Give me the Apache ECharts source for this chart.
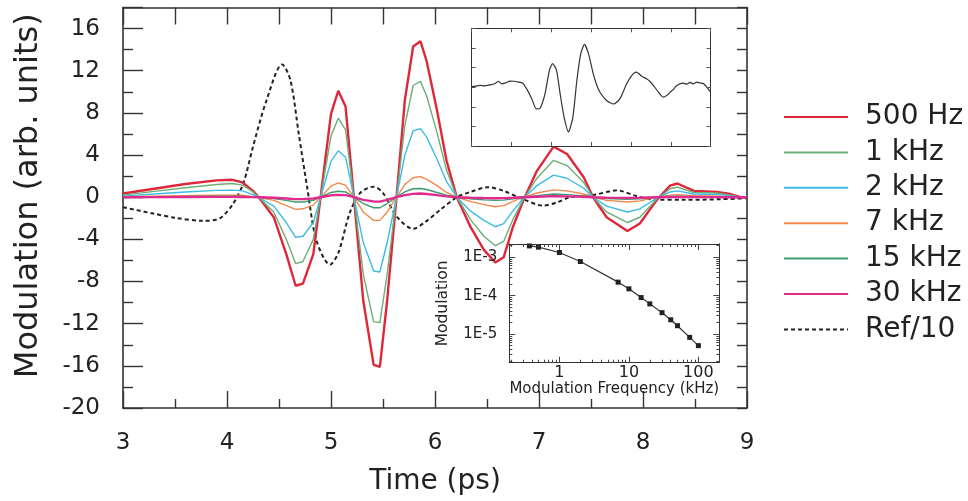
<!DOCTYPE html>
<html><head><meta charset="utf-8">
<script src="https://cdn.jsdelivr.net/npm/echarts@6/dist/echarts.min.js"></script>
<style>html,body{margin:0;padding:0;background:#fff}#c{width:968px;height:501px}</style>
</head><body><div id="c"></div>
<script>
// ---- Main chart data (Time in ps, Modulation arb. units) ----
const time = [3.0,3.3,3.6,3.9,4.05,4.15,4.25,4.32,4.45,4.57,4.66,4.73,4.83,4.90,5.00,5.07,5.14,5.22,5.31,5.41,5.47,5.54,5.63,5.71,5.79,5.86,5.92,6.02,6.11,6.21,6.34,6.47,6.58,6.66,6.75,6.85,6.98,7.14,7.27,7.43,7.52,7.65,7.85,7.97,8.13,8.26,8.33,8.49,8.71,8.84,8.94,9.0];
const hz500 = [0.35,0.8,1.25,1.6,1.65,1.4,0.6,-0.2,-1.9,-5.4,-8.4,-8.2,-5.4,0,7.9,10.1,8.6,0,-9.8,-15.9,-16.1,-9.8,0,9.2,14.3,14.8,12.9,8.2,3.5,0,-2.8,-5.0,-6.2,-5.7,-2.8,-0.3,2.5,4.8,4.1,1.9,0,-1.9,-3.2,-2.5,-0.3,1.1,1.3,0.6,0.5,0.3,0,0];
const khz1 = [0.2,0.55,0.9,1.2,1.3,1.15,0.5,-0.15,-1.4,-4.0,-6.3,-6.1,-4.0,0,5.8,7.5,6.4,0,-7.3,-11.8,-11.9,-7.3,0,6.8,10.6,11.0,9.6,6.1,2.6,0,-2.1,-3.7,-4.6,-4.2,-2.1,-0.2,1.8,3.5,3.0,1.4,0,-1.4,-2.4,-1.9,-0.2,0.8,0.95,0.45,0.4,0.2,0,0];
const khz2 = [0.1,0.3,0.5,0.65,0.67,0.6,0.25,-0.1,-0.85,-2.4,-3.8,-3.7,-2.4,0,3.4,4.4,3.8,0,-4.3,-7.0,-7.1,-4.3,0,4.0,6.3,6.5,5.7,3.6,1.5,0,-1.3,-2.2,-2.8,-2.5,-1.3,-0.1,1.1,2.1,1.8,0.85,0,-0.85,-1.4,-1.1,-0.1,0.5,0.6,0.3,0.25,0.15,0,0];
const khz7 = [0.05,0.1,0.15,0.2,0.2,0.18,0.05,-0.05,-0.3,-0.8,-1.15,-1.1,-0.75,0,1.05,1.35,1.15,0,-1.4,-2.2,-2.2,-1.4,0,1.2,1.85,1.95,1.7,1.1,0.45,0,-0.4,-0.7,-0.9,-0.8,-0.4,0,0.4,0.7,0.6,0.3,0,-0.3,-0.45,-0.35,0,0.2,0.25,0.15,0.1,0.05,0,0];
const khz15 = [0.02,0.05,0.07,0.1,0.1,0.08,0.03,-0.02,-0.12,-0.3,-0.45,-0.45,-0.3,0,0.45,0.57,0.5,0,-0.6,-1.0,-1.0,-0.6,0,0.5,0.8,0.83,0.73,0.45,0.2,0,-0.15,-0.25,-0.3,-0.28,-0.15,0,0.15,0.3,0.25,0.12,0,-0.12,-0.2,-0.15,0,0.08,0.1,0.05,0.04,0.02,0,0];
const khz30 = [0,0.01,0.02,0.03,0.03,0.02,0.01,0,-0.05,-0.12,-0.18,-0.18,-0.12,0,0.18,0.22,0.2,0,-0.25,-0.4,-0.42,-0.25,0,0.2,0.32,0.35,0.3,0.2,0.08,0,-0.05,-0.08,-0.1,-0.09,-0.05,0,0.05,0.1,0.08,0.04,0,-0.04,-0.06,-0.05,0,0.02,0.03,0.02,0.01,0,0,0];
const refTime = [3.0,3.29,3.5,3.77,3.93,4.06,4.16,4.25,4.38,4.53,4.61,4.69,4.77,4.86,4.99,5.07,5.18,5.28,5.41,5.50,5.63,5.79,5.90,6.05,6.21,6.34,6.51,6.66,6.85,7.04,7.17,7.30,7.52,7.75,7.94,8.13,8.39,8.71,9.0];
const refValues = [-0.95,-1.55,-1.95,-2.24,-2.0,-0.6,1.4,4.8,9.2,12.6,11.1,6.0,1.0,-4.1,-6.4,-5.3,-1.5,0.4,1.0,0.4,-1.8,-3.0,-2.4,-1.2,0,0.5,0.95,0.6,-0.2,-0.8,-0.5,0,0.2,0.65,0.1,-0.25,-0.25,-0.2,-0.1];
const seriesNames = ['500 Hz','1 kHz','2 kHz','7 kHz','15 kHz','30 kHz','Ref/10'];
const xTicks = [3,4,5,6,7,8,9];
const yTicks = [-20,-16,-12,-8,-4,0,4,8,12,16];

// ---- Top inset (waveform, no labels) ----
const insetX = [0,0.1,0.21,0.33,0.46,0.56,0.67,0.75,0.85,0.96,1.06,1.17,1.28,1.38,1.51,1.62,1.72,1.84,1.95,2.03,2.13,2.22,2.32,2.43,2.54,2.64,2.74,2.83,2.93,3.05,3.14,3.22,3.39,3.56,3.72,3.89,4.02,4.08,4.14,4.2,4.27,4.39,4.47,4.56,4.69,4.81,4.9,4.98,5.07,5.15,5.31,5.4,5.48,5.56,5.65,5.73,5.82,5.90,6.0];
const insetY = [0.03,0.05,0.09,0.07,0.12,0.16,0.29,0.17,0.22,0.31,0.3,0.26,0.2,-0.09,-0.6,-1.11,-1.06,-0.34,0.86,1.2,0.86,-0.34,-1.54,-2.28,-1.54,0.34,1.72,2.18,1.72,0.69,0.1,-0.26,-0.69,-0.86,-0.6,0.17,0.6,0.72,0.77,0.68,0.55,0.43,0.3,0.09,-0.26,-0.51,-0.42,-0.26,-0.1,0.09,0.21,0.15,0.24,0.17,0.26,0.21,0.18,0,-0.26];

// ---- Bottom inset (log-log) ----
const freqKHz = [0.37,0.5,1,2,7,10,15,20,30,40,50,75,100];
const modAmp = [1.96e-3,1.82e-3,1.32e-3,7.7e-4,2.24e-4,1.5e-4,8.9e-5,6.1e-5,3.6e-5,2.35e-5,1.65e-5,8.2e-6,5.0e-6];
const logXTicks = [1, 10, 100];
const logXMinor = [0.2,0.3,0.4,0.5,0.6,0.7,0.8,0.9,2,3,4,5,6,7,8,9,20,30,40,50,60,70,80,90,200];
const logYTicks = [1e-5, 1e-4, 1e-3];
const logYMinor = [2e-6,3e-6,4e-6,5e-6,6e-6,7e-6,8e-6,9e-6,2e-5,3e-5,4e-5,5e-5,6e-5,7e-5,8e-5,9e-5,2e-4,3e-4,4e-4,5e-4,6e-4,7e-4,8e-4,9e-4,2e-3];

const zip = (a, b) => a.map((v, i) => [v, b[i]]);
const FONT = 'DejaVu Sans';
const AX = '#333';
const TXT = '#222';

const mainSeriesDefs = [
  {name: seriesNames[0], data: hz500, color: '#e0273a', width: 2.4},
  {name: seriesNames[1], data: khz1, color: '#6aae78', width: 1.4},
  {name: seriesNames[2], data: khz2, color: '#3dbbe6', width: 1.4},
  {name: seriesNames[3], data: khz7, color: '#f2884a', width: 1.4},
  {name: seriesNames[4], data: khz15, color: '#3d9a6e', width: 1.4},
  {name: seriesNames[5], data: khz30, color: '#df2a8e', width: 2.4}
];

const series = mainSeriesDefs.map(d => ({
  type: 'line', name: d.name, xAxisIndex: 0, yAxisIndex: 0,
  data: zip(time, d.data), symbol: 'none', z: 3,
  lineStyle: {color: d.color, width: d.width}, itemStyle: {color: d.color}
}));
series.push({
  type: 'line', name: seriesNames[6], xAxisIndex: 0, yAxisIndex: 0,
  data: zip(refTime, refValues), symbol: 'none', smooth: 0.3, z: 2,
  lineStyle: {color: '#222', width: 2, type: [4, 3]}, itemStyle: {color: '#222'}
});
series.push({
  type: 'line', xAxisIndex: 2, yAxisIndex: 2, data: zip(insetX, insetY),
  symbol: 'none', smooth: 0.2, z: 12, silent: true,
  lineStyle: {color: '#333', width: 1.2}
});
series.push({
  type: 'line', xAxisIndex: 4, yAxisIndex: 4, data: zip(freqKHz, modAmp),
  symbol: 'rect', symbolSize: 5, z: 12, silent: true,
  lineStyle: {color: '#333', width: 1.2}, itemStyle: {color: '#222'}
});

function axLine(w) { return {show: true, onZero: false, lineStyle: {color: AX, width: w}}; }
const NOSPLIT = {show: false};

function logAxis(kind, pos, ticks, len, extra) {
  const isX = kind === 'x';
  return Object.assign({
    gridIndex: 2, type: 'log', logBase: 10, position: pos, z: 13,
    min: isX ? 0.19 : 1.8e-6, max: isX ? 200 : 2.2e-3,
    axisLine: axLine(1), splitLine: NOSPLIT,
    axisTick: {inside: true, length: len, customValues: ticks, lineStyle: {color: '#444'}},
    axisLabel: {show: false}
  }, extra || {});
}

const option = {
  animation: false,
  backgroundColor: '#fff',
  textStyle: {fontFamily: FONT, color: TXT},
  legend: {
    orient: 'vertical', left: 778, top: 97, itemWidth: 64, itemHeight: 14, itemGap: 5.4,
    data: seriesNames,
    itemStyle: {opacity: 0},
    textStyle: {fontFamily: FONT, fontSize: 28, color: TXT, lineHeight: 30, padding: [0, 0, 0, 12]}
  },
  grid: [
    {left: 123, right: 221, top: 7.5, bottom: 93},
    {left: 471.7, top: 28.3, width: 239, height: 117.7, show: true, backgroundColor: '#fff', borderWidth: 0, z: 10},
    {left: 509.3, top: 244, width: 210, height: 118.7, show: true, backgroundColor: '#fff', borderWidth: 0, z: 10}
  ],
  xAxis: [
    {gridIndex: 0, type: 'value', min: xTicks[0], max: xTicks[xTicks.length - 1], interval: 1,
     name: 'Time (ps)', nameLocation: 'middle', nameGap: 60,
     nameTextStyle: {fontSize: 28, color: TXT, fontFamily: FONT},
     axisLine: axLine(1.6), splitLine: NOSPLIT,
     axisTick: {inside: true, length: 17, lineStyle: {color: AX, width: 1.4}},
     minorTick: {show: true, splitNumber: 2, length: 9, lineStyle: {color: AX, width: 1.4}},
     axisLabel: {fontSize: 23, margin: 24, color: TXT, fontFamily: FONT}},
    {gridIndex: 0, type: 'value', position: 'top', min: 3, max: 9, interval: 0.5,
     axisLine: axLine(1.6), splitLine: NOSPLIT,
     axisTick: {inside: true, length: 17, lineStyle: {color: AX, width: 1.4}},
     axisLabel: {show: false}},
    {gridIndex: 1, type: 'value', position: 'bottom', min: 0, max: 6, interval: 1, z: 13,
     axisLine: axLine(1), splitLine: NOSPLIT,
     axisTick: {inside: true, length: 4, lineStyle: {color: '#555'}}, axisLabel: {show: false}},
    {gridIndex: 1, type: 'value', position: 'top', min: 0, max: 6, interval: 1, z: 13,
     axisLine: axLine(1), splitLine: NOSPLIT,
     axisTick: {inside: true, length: 4, lineStyle: {color: '#555'}}, axisLabel: {show: false}},
    logAxis('x', 'bottom', logXTicks, 6, {
      name: 'Modulation Frequency (kHz)', nameLocation: 'middle', nameGap: 17,
      nameTextStyle: {fontSize: 15, color: TXT, fontFamily: FONT},
      axisLabel: {show: true, customValues: logXTicks, fontSize: 16, margin: 2, color: TXT, fontFamily: FONT,
        formatter: v => String(Math.round(v))}
    }),
    logAxis('x', 'top', logXTicks, 6),
    logAxis('x', 'bottom', logXMinor, 3),
    logAxis('x', 'top', logXMinor, 3)
  ],
  yAxis: [
    {gridIndex: 0, type: 'value', min: yTicks[0], max: 18, interval: 4,
     name: 'Modulation (arb. units)', nameLocation: 'middle', nameGap: 78, nameRotate: 90,
     nameTextStyle: {fontSize: 32, color: TXT, fontFamily: FONT, padding: [0, 0, 0, 24]},
     axisLine: axLine(1.6), splitLine: NOSPLIT,
     axisTick: {inside: true, length: 20, lineStyle: {color: AX, width: 1.4}},
     minorTick: {show: true, splitNumber: 2, length: 10, lineStyle: {color: AX, width: 1.4}},
     axisLabel: {fontSize: 23, margin: 23, color: TXT, fontFamily: FONT, showMaxLabel: false}},
    {gridIndex: 0, type: 'value', position: 'right', min: -20, max: 18, interval: 2,
     axisLine: axLine(1.6), splitLine: NOSPLIT,
     axisTick: {inside: true, length: 10, lineStyle: {color: AX, width: 1.4}},
     axisLabel: {show: false}},
    {gridIndex: 1, type: 'value', position: 'left', min: -3, max: 3, interval: 1, z: 13,
     axisLine: axLine(1), splitLine: NOSPLIT,
     axisTick: {inside: true, length: 4, lineStyle: {color: '#555'}}, axisLabel: {show: false}},
    {gridIndex: 1, type: 'value', position: 'right', min: -3, max: 3, interval: 1, z: 13,
     axisLine: axLine(1), splitLine: NOSPLIT,
     axisTick: {inside: true, length: 4, lineStyle: {color: '#555'}}, axisLabel: {show: false}},
    logAxis('y', 'left', logYTicks, 6, {
      name: 'Modulation', nameLocation: 'middle', nameGap: 58, nameRotate: 90,
      nameTextStyle: {fontSize: 15.5, color: TXT, fontFamily: FONT},
      axisLabel: {show: true, customValues: logYTicks, fontSize: 15, margin: 12, color: TXT, fontFamily: FONT,
        formatter: v => '1E' + Math.round(Math.log10(v))}
    }),
    logAxis('y', 'right', logYTicks, 6),
    logAxis('y', 'left', logYMinor, 3),
    logAxis('y', 'right', logYMinor, 3)
  ],
  series: series
};

const chart = echarts.init(document.getElementById('c'), null, {renderer: 'canvas'});
chart.setOption(option);
</script>
</body></html>
